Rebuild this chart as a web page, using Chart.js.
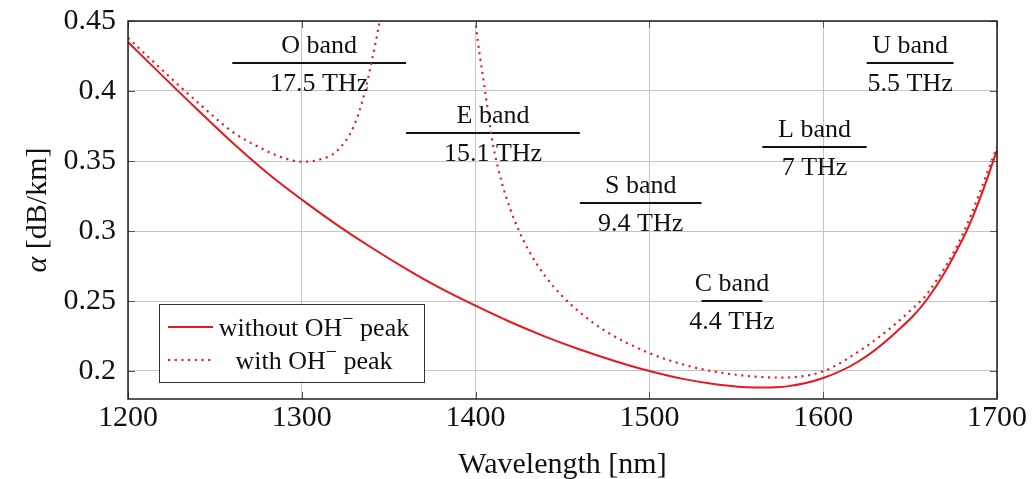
<!DOCTYPE html>
<html>
<head>
<meta charset="utf-8">
<script src="https://cdn.jsdelivr.net/npm/chart.js@4.4.1/dist/chart.umd.min.js"></script>
<style>
  body { margin: 0; background: #fff; }
  canvas { display: block; }
</style>
</head>
<body>
<canvas id="attenuation" width="1032" height="479"></canvas>
<script>
// fibre attenuation, dB/km vs wavelength
const wlDry = [1200, 1220, 1240, 1260, 1280, 1300, 1320, 1340, 1360, 1380, 1400, 1420, 1440, 1460, 1480, 1500, 1520, 1540, 1560, 1580, 1600, 1620, 1640, 1660, 1680, 1690, 1700];
const lossDry = [0.435, 0.4106, 0.3866, 0.3632, 0.3416, 0.3224, 0.3046, 0.2882, 0.2730, 0.2590, 0.2466, 0.2350, 0.2246, 0.2154, 0.2072, 0.2000, 0.1942, 0.1902, 0.1882, 0.1892, 0.1950, 0.2066, 0.2256, 0.2516, 0.2936, 0.3226, 0.3576];

const wlWet = [1200, 1220, 1240, 1260, 1280, 1290, 1300, 1310, 1320, 1330, 1336, 1340, 1345, 1350, 1365, 1383, 1395, 1400, 1405, 1410, 1415, 1420, 1425, 1430, 1440, 1450, 1460, 1475, 1500, 1525, 1550, 1575, 1600, 1625, 1640, 1650, 1660, 1680, 1700];
const lossWet = [0.438, 0.4146, 0.392, 0.371, 0.357, 0.352, 0.3495, 0.351, 0.357, 0.375, 0.398, 0.420, 0.452, 0.50, 0.70, 0.95, 0.53, 0.45, 0.404, 0.362, 0.335, 0.3155, 0.300, 0.2873, 0.2678, 0.2533, 0.2418, 0.2283, 0.2128, 0.2028, 0.1973, 0.1953, 0.1998, 0.2178, 0.2320, 0.2430, 0.2555, 0.2970, 0.3600];

// ITU bands
const bandNames = ['O band', 'E band', 'S band', 'C band', 'L band', 'U band'];
const bandWidths = ['17.5 THz', '15.1 THz', '9.4 THz', '4.4 THz', '7 THz', '5.5 THz'];
const bandStart = [1260, 1360, 1460, 1530, 1565, 1625];
const bandEnd = [1360, 1460, 1530, 1565, 1625, 1675];
const bandLevel = [0.42, 0.37, 0.32, 0.25, 0.36, 0.42];

const xTicks = [1200, 1300, 1400, 1500, 1600, 1700];
const yTicks = [0.2, 0.25, 0.3, 0.35, 0.4, 0.45];
const yTickLabels = ['0.2', '0.25', '0.3', '0.35', '0.4', '0.45'];

const RED = 'rgb(232, 22, 30)';
const SERIF = '"Liberation Serif", "DejaVu Serif", serif';
const DOTS = [2.1, 4.6];

const pts = (xs, ys) => xs.map((x, i) => ({ x: x, y: ys[i] }));

const datasets = [
  {
    label: 'without OH\u207B peak',
    data: pts(wlDry, lossDry),
    borderColor: RED,
    borderWidth: 2,
    pointRadius: 0,
    tension: 0.4
  },
  {
    label: 'with OH\u207B peak',
    data: pts(wlWet, lossWet),
    borderColor: RED,
    borderWidth: 2.1,
    borderDash: DOTS,
    pointRadius: 0,
    cubicInterpolationMode: 'monotone'
  }
];

bandNames.forEach((name, i) => {
  datasets.push({
    label: name,
    data: [{ x: bandStart[i], y: bandLevel[i] }, { x: bandEnd[i], y: bandLevel[i] }],
    borderColor: '#111',
    borderWidth: 2,
    pointRadius: 0,
    tension: 0
  });
});

// frame, inward ticks, band text, legend box, y title
const decorations = {
  id: 'decorations',
  afterDatasetsDraw(chart) {
    const c = chart.ctx;
    const a = chart.chartArea;
    const xs = chart.scales.x, ys = chart.scales.y;
    c.save();

    // band labels
    c.fillStyle = '#111';
    c.font = '26px ' + SERIF;
    c.textAlign = 'center';
    c.textBaseline = 'alphabetic';
    bandNames.forEach((name, i) => {
      const cx = xs.getPixelForValue((bandStart[i] + bandEnd[i]) / 2);
      const cy = ys.getPixelForValue(bandLevel[i]);
      c.fillText(name, cx, cy - 10);
      c.fillText(bandWidths[i], cx, cy + 28);
    });

    // tick marks pointing in
    c.strokeStyle = '#555';
    c.lineWidth = 1;
    c.beginPath();
    xTicks.forEach(v => {
      const px = Math.round(xs.getPixelForValue(v)) + 0.5;
      c.moveTo(px, a.bottom); c.lineTo(px, a.bottom - 7);
      c.moveTo(px, a.top); c.lineTo(px, a.top + 7);
    });
    yTicks.forEach(v => {
      const py = Math.round(ys.getPixelForValue(v)) + 0.5;
      c.moveTo(a.left, py); c.lineTo(a.left + 7, py);
      c.moveTo(a.right, py); c.lineTo(a.right - 7, py);
    });
    c.stroke();

    // frame
    c.strokeStyle = '#111';
    c.lineWidth = 1.4;
    c.strokeRect(a.left, a.top, a.right - a.left, a.bottom - a.top);

    // legend
    const lx = a.left + 31, ly = a.bottom - 95, lw = 265, lh = 78;
    c.fillStyle = '#fff';
    c.fillRect(lx, ly, lw, lh);
    c.strokeStyle = '#333';
    c.lineWidth = 1;
    c.strokeRect(lx + 0.5, ly + 0.5, lw, lh);

    const rows = [
      { y: ly + 23, dash: [], width: 2, words: ['without OH', ' peak'] },
      { y: ly + 56, dash: DOTS, width: 2.1, words: ['with OH', ' peak'] }
    ];
    rows.forEach(r => {
      c.strokeStyle = RED;
      c.lineWidth = r.width;
      c.setLineDash(r.dash);
      c.beginPath();
      c.moveTo(lx + 9, r.y); c.lineTo(lx + 54, r.y);
      c.stroke();
      c.setLineDash([]);

      c.fillStyle = '#111';
      c.textAlign = 'left';
      c.textBaseline = 'middle';
      c.font = '26px ' + SERIF;
      const w1 = c.measureText(r.words[0]).width;
      const w2 = c.measureText(r.words[1]).width;
      c.font = '20px ' + SERIF;
      const wm = c.measureText('\u2212').width;
      const total = w1 + wm + w2;
      let tx = lx + 155 - total / 2;
      c.font = '26px ' + SERIF;
      c.fillText(r.words[0], tx, r.y + 2);
      tx += w1;
      c.font = '20px ' + SERIF;
      c.fillText('\u2212', tx, r.y - 7);
      tx += wm;
      c.font = '26px ' + SERIF;
      c.fillText(r.words[1], tx, r.y + 2);
    });

    // y title with italic alpha
    c.translate(38, (a.top + a.bottom) / 2);
    c.rotate(-Math.PI / 2);
    c.fillStyle = '#111';
    c.textBaseline = 'middle';
    c.textAlign = 'left';
    c.font = 'italic 30px ' + SERIF;
    const wa = c.measureText('\u03B1').width;
    c.font = '30px ' + SERIF;
    const wr = c.measureText(' [dB/km]').width;
    const sx = -(wa + wr) / 2;
    c.font = 'italic 30px ' + SERIF;
    c.fillText('\u03B1', sx, 0);
    c.font = '30px ' + SERIF;
    c.fillText(' [dB/km]', sx + wa, 0);

    c.restore();
  }
};

new Chart(document.getElementById('attenuation'), {
  type: 'line',
  data: { datasets: datasets },
  options: {
    responsive: false,
    animation: false,
    devicePixelRatio: 1,
    layout: { padding: { top: 21, right: 35, left: 0, bottom: 0 } },
    plugins: {
      legend: { display: false },
      tooltip: { enabled: false }
    },
    scales: {
      x: {
        type: 'linear',
        min: 1200,
        max: 1700,
        afterFit: s => { s.height = 80; s.paddingLeft = 0; s.paddingRight = 0; },
        afterBuildTicks: s => { s.ticks = xTicks.map(v => ({ value: v })); },
        grid: { color: '#c6c6c6', lineWidth: 1, drawTicks: false },
        border: { display: false },
        ticks: {
          color: '#111',
          padding: 1,
          font: { family: SERIF, size: 30 },
          maxRotation: 0,
          callback: v => String(v)
        },
        title: {
          display: true,
          text: 'Wavelength [nm]',
          color: '#111',
          font: { family: SERIF, size: 30 },
          padding: { top: 0, bottom: -4 }
        }
      },
      y: {
        min: 0.18,
        max: 0.45,
        afterFit: s => { s.width = 128; s.paddingTop = 0; s.paddingBottom = 0; },
        afterBuildTicks: s => { s.ticks = yTicks.map(v => ({ value: v })); },
        grid: { color: '#c6c6c6', lineWidth: 1, drawTicks: false },
        border: { display: false },
        ticks: {
          color: '#111',
          padding: 12,
          font: { family: SERIF, size: 30 },
          callback: (v, i) => yTickLabels[i]
        }
      }
    }
  },
  plugins: [decorations]
});
</script>
</body>
</html>
